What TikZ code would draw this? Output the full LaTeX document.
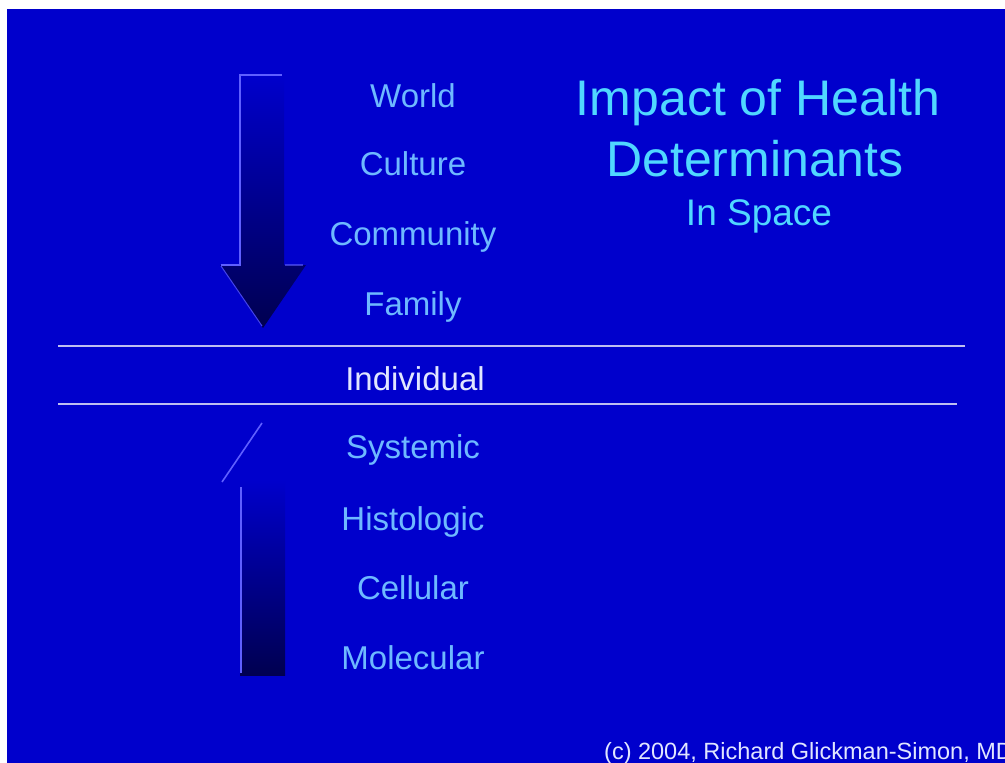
\documentclass[tikz,border=0pt]{standalone}
\usepackage{fontspec}
\setmainfont{Liberation Sans}
\definecolor{bg}{RGB}{0,0,204}
\definecolor{item}{RGB}{110,185,255}
\definecolor{titlec}{RGB}{80,215,255}
\definecolor{indiv}{RGB}{225,230,255}
\definecolor{rule}{RGB}{190,190,240}
\definecolor{edge}{RGB}{95,95,255}
\definecolor{navy}{RGB}{0,0,80}
\begin{document}
\begin{tikzpicture}[x=1pt,y=-1pt,
  itemtxt/.style={anchor=base,text=item,font=\fontsize{33}{40}\selectfont,inner sep=0pt},
  titletxt/.style={anchor=base,text=titlec,inner sep=0pt},
  sepline/.style={draw=rule,line width=2.6pt},
  hl/.style={draw=edge,line width=1.6pt}]
\useasboundingbox (0,0) rectangle (1005,763);
\fill[white] (0,0) rectangle (1005,763);
\fill[bg] (7,9) rectangle (1005,763);
% down arrow
\shade[top color=bg,bottom color=navy]
  (240,75) -- (284,75) -- (284,265) -- (306,265) -- (263,328) -- (220,265) -- (240,265) -- cycle;
\draw[hl] (282,75) -- (240,75) -- (240,265) -- (221,265);
\draw[hl,draw opacity=0.6] (285,265) -- (303,265);
\draw[draw=edge!70!bg,line width=1pt] (221,266) -- (262,326);
% up arrow
\shade[top color=bg,bottom color=navy] (240,480) rectangle (285,675);
\draw[hl] (241,487) -- (241,673);
\draw[hl] (222,482) -- (262,423);
% separator lines
\draw[sepline] (58,346) -- (965,346);
\draw[sepline] (58,404) -- (957,404);
% items
\node[itemtxt] (world) at (413,107) {World};
\node[itemtxt] (culture) at (413,175) {Culture};
\node[itemtxt] (community) at (413,245) {Community};
\node[itemtxt] (family) at (413,315) {Family};
\node[itemtxt,text=indiv] (individual) at (415,390) {Individual};
\node[itemtxt] (systemic) at (413,458) {Systemic};
\node[itemtxt] (histologic) at (413,530) {Histologic};
\node[itemtxt] (cellular) at (413,599) {Cellular};
\node[itemtxt] (molecular) at (413,669) {Molecular};
% title
\node[titletxt,font=\fontsize{50}{60}\selectfont] (t1) at (758,115) {Impact of Health};
\node[titletxt,font=\fontsize{50}{60}\selectfont] (t2) at (755,176) {Determinants};
\node[titletxt,font=\fontsize{37}{44}\selectfont] (t3) at (759,225) {In Space};
% copyright
\node[anchor=base west,inner sep=0pt,text=indiv,font=\fontsize{23.5}{28}\selectfont] (copy) at (604,759) {(c) 2004, Richard Glickman-Simon, MD};
\end{tikzpicture}
\end{document}
